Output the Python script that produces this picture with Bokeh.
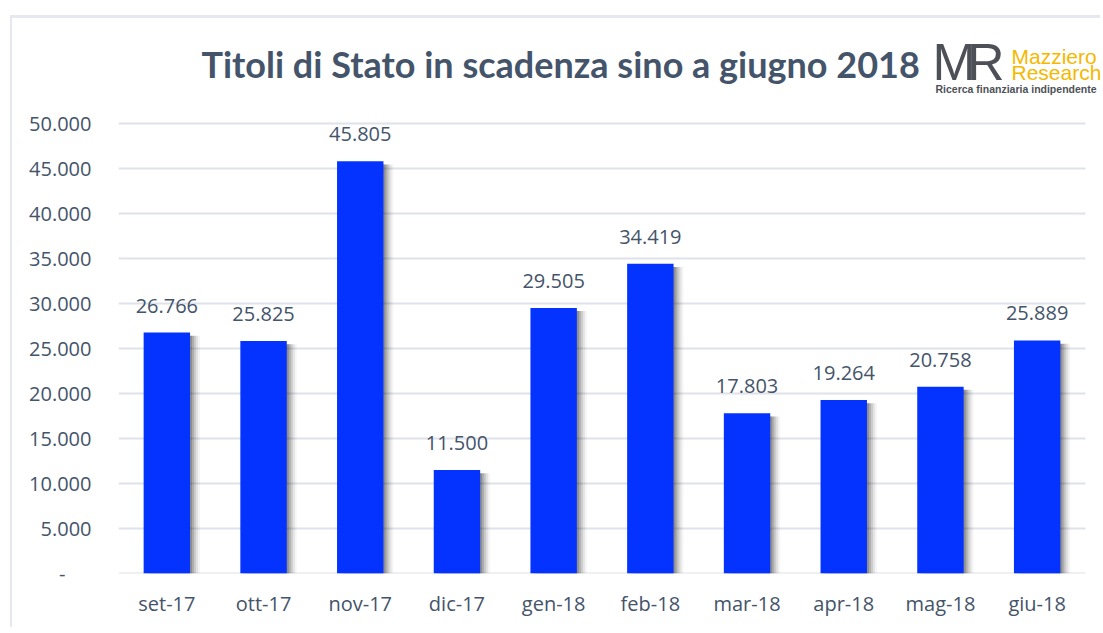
from bokeh.plotting import figure
from bokeh.models import ColumnDataSource, FixedTicker, LabelSet, Label, Range1d
from bokeh.core.properties import value
from bokeh.embed import file_html
from bokeh.resources import INLINE

# ---- data ----
categories = ["set-17", "ott-17", "nov-17", "dic-17", "gen-18", "feb-18",
              "mar-18", "apr-18", "mag-18", "giu-18"]
amounts = [26766, 25825, 45805, 11500, 29505, 34419, 17803, 19264, 20758, 25889]
y_ticks = [0, 5000, 10000, 15000, 20000, 25000, 30000, 35000, 40000, 45000, 50000]
title_text = "Titoli di Stato in scadenza sino a giugno 2018"

def fmt(v):
    return f"{v:,}".replace(",", ".")

TXT = "#44546a"
FONT = "Open Sans"
N = len(categories)
xs = list(range(N))

# layout (page pixels)
W, H = 1090, 612
ML, MT = 10, 15          # host margins
BL, BT = 2, 3            # borders
CL, CT = ML + BL, MT + BT     # canvas origin on page
FL, FR, FB = 118, 1085, 573   # frame left / last-category edge / bottom on page
cat_w = (FR - FL) / N
PX_PER_UNIT = 450 / 50000
y_end = (FB - CT) / PX_PER_UNIT
x_start = -0.5
x_end = -0.5 + (CL + W - FL) / cat_w

def xd(px):
    return x_start + (px - FL) / cat_w

def yd(py):
    return (FB - py) / PX_PER_UNIT

src = ColumnDataSource(dict(
    x=xs,
    val=amounts,
    lab=[fmt(v) for v in amounts],
    shadow_top=[v - 350 for v in amounts],
))

p = figure(x_range=Range1d(x_start, x_end), y_range=Range1d(0, y_end),
           width=W, height=H,
           output_backend="svg", toolbar_location=None,
           min_border_left=FL - CL, min_border_right=0,
           min_border_top=0, min_border_bottom=(CT + H) - FB)
p.styles = {"border-top": f"{BT}px solid #e6e8ef", "border-left": f"{BL}px solid #e6e8ef",
            "margin-left": f"{ML}px", "margin-top": f"{MT}px"}
p.outline_line_color = None
p.background_fill_color = "white"
p.border_fill_color = "white"
p.xgrid.grid_line_color = None
p.ygrid.grid_line_color = None

# horizontal gridlines across the category area
p.segment(x0=x_start, x1=N - 0.5, y0=y_ticks, y1=y_ticks,
          line_color="#dfe2ea", line_width=2)

# shadow layers
for off_px, a in [(2, 0.18), (4, 0.14), (6, 0.10), (8, 0.07), (10, 0.04)]:
    off = off_px / cat_w
    p.vbar(x=[x + off for x in xs], top=src.data["shadow_top"], bottom=-800,
           width=0.48, fill_color="black", fill_alpha=a, line_color=None)

p.vbar(x="x", top="val", width=0.48, source=src,
       fill_color="#0433ff", line_color=None)

labels = LabelSet(x="x", y="val", text="lab", source=src,
                  text_align="center", text_baseline="middle", y_offset=27,
                  text_font=value(FONT), text_font_size="20px", text_color=TXT)
p.add_layout(labels)

# axes
p.xaxis.ticker = FixedTicker(ticks=xs)
p.xaxis.major_label_overrides = {i: c for i, c in zip(xs, categories)}
p.yaxis.ticker = FixedTicker(ticks=y_ticks)
overrides = {t: fmt(t) for t in y_ticks}
overrides[0] = "-\u00a0\u00a0\u00a0\u00a0\u00a0"
p.yaxis.major_label_overrides = overrides
for ax in (p.xaxis, p.yaxis):
    ax.axis_line_color = None
    ax.major_tick_line_color = None
    ax.minor_tick_line_color = None
    ax.major_label_text_font = FONT
    ax.major_label_text_font_size = "20px"
    ax.major_label_text_color = TXT
p.yaxis.major_label_standoff = 21
p.xaxis.major_label_standoff = 10

# title & logo (data coordinates in the upper, empty part of the frame)
def lab(px, py, text, font, size, color, style="normal", align="left"):
    p.add_layout(Label(x=xd(px), y=yd(py), text=text, text_font=font,
                       text_font_style=style, text_font_size=size,
                       text_color=color, text_baseline="middle",
                       text_align=align))

lab(201, 63, title_text, "Lato", "36px", TXT, "bold")
lab(932, 61, "M", "Liberation Sans", "52px", "#4d5157")
lab(1004, 61, "R", "Liberation Sans", "52px", "#4d5157", align="right")
lab(1011, 56, "Mazziero", "Liberation Sans", "21px", "#f5b800")
lab(1011, 72, "Research", "Liberation Sans", "21px", "#f5b800")
lab(935, 88.5, "Ricerca finanziaria indipendente", "Liberation Sans", "10.5px",
    "#4d5157", "bold")

open("out.html", "w").write(file_html(p, INLINE))
